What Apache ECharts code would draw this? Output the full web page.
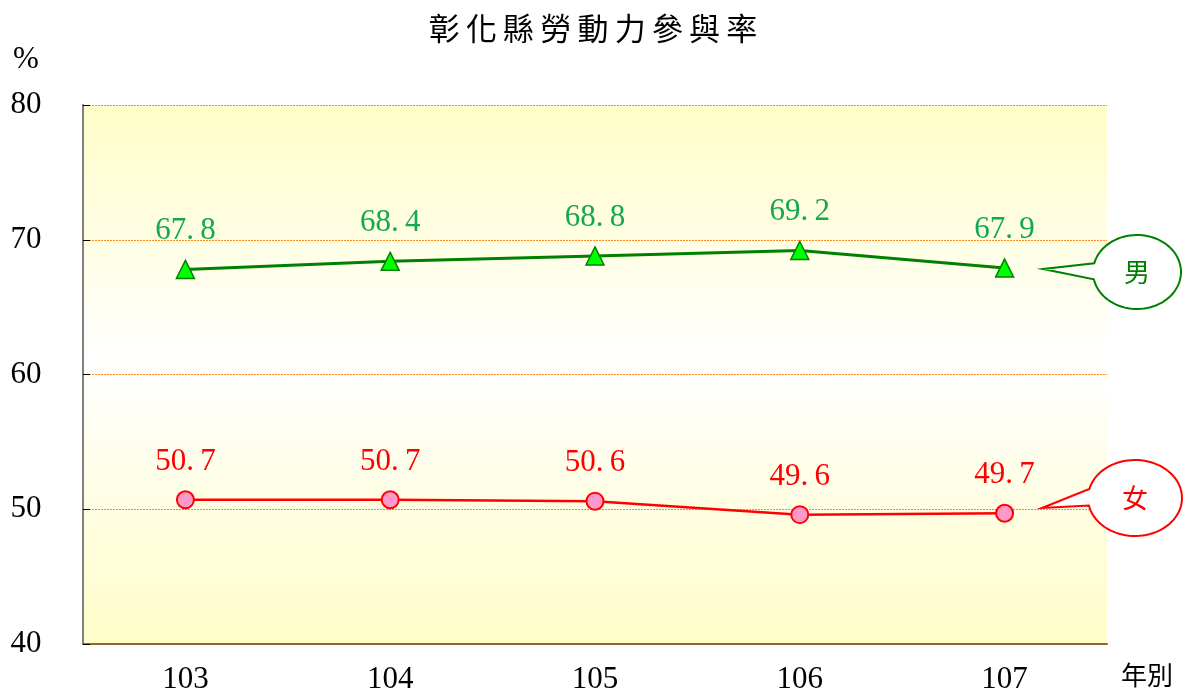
<!DOCTYPE html>
<html>
<head>
<meta charset="utf-8">
<script src="https://cdn.jsdelivr.net/npm/echarts@6/dist/echarts.min.js"></script>
<style>
  html, body { margin: 0; padding: 0; background: #fff; }
  #chart { width: 1186px; height: 695px; }
</style>
</head>
<body>
<div id="chart"></div>
<script>
const years = ['103', '104', '105', '106', '107']
const maleRates = [67.8, 68.4, 68.8, 69.2, 67.9]
const femaleRates = [50.7, 50.7, 50.6, 49.6, 49.7]
const yTicks = [40, 50, 60, 70, 80]

const serif = '"Liberation Serif", "DejaVu Serif", serif'
const cjk = '"Noto Sans CJK TC", "Noto Sans CJK SC", sans-serif'

const chart = echarts.init(document.getElementById('chart'))

// 對話框形狀：尖端 + 橢圓外框
const bubble = (tipX, tipY, cx, cy, rx, ry, color, text) => {
  const pts = [[tipX, tipY]]
  const a0 = Math.PI + 0.24
  const a1 = Math.PI * 3 - 0.2
  for (let i = 0; i <= 80; i++) {
    const a = a0 + ((a1 - a0) * i) / 80
    pts.push([cx + rx * Math.cos(a), cy + ry * Math.sin(a)])
  }
  return [
    {
      type: 'polygon',
      shape: { points: pts },
      style: { fill: '#fff', stroke: color, lineWidth: 2 },
      z: 10
    },
    {
      type: 'text',
      x: cx,
      y: cy,
      style: {
        text: text,
        fill: color,
        font: `26px ${cjk}`,
        align: 'center',
        verticalAlign: 'middle'
      },
      z: 11
    }
  ]
}

const dataLabel = (color) => ({
  show: true,
  position: 'top',
  distance: 13,
  fontFamily: serif,
  fontSize: 31,
  color: color,
  formatter: (p) => p.value.toFixed(1).replace('.', '.\u2009')
})

const option = {
  animation: false,
  title: {
    text: '彰\u2009化\u2009縣\u2009勞\u2009動\u2009力\u2009參\u2009與\u2009率',
    left: 'center',
    top: 8,
    textStyle: { fontFamily: cjk, fontSize: 31, fontWeight: 'normal', color: '#000' }
  },
  grid: {
    left: 83,
    right: 79,
    top: 105,
    bottom: 50,
    show: true,
    borderWidth: 0,
    backgroundColor: new echarts.graphic.LinearGradient(0, 0, 0, 1, [
      { offset: 0, color: '#FFFDC8' },
      { offset: 0.48, color: '#FFFFFF' },
      { offset: 1, color: '#FFFDC8' }
    ])
  },
  xAxis: {
    type: 'category',
    data: years,
    boundaryGap: true,
    name: '年別',
    nameLocation: 'end',
    nameGap: 14,
    nameTextStyle: { fontFamily: cjk, fontSize: 26, color: '#000', verticalAlign: 'top', padding: [18, 0, 0, 0] },
    axisLine: { lineStyle: { color: '#8a6a3a', width: 2 } },
    axisTick: { inside: true, length: 8, lineStyle: { color: '#333' } },
    axisLabel: { fontFamily: serif, fontSize: 31, color: '#000', margin: 20 },
    splitLine: { show: false }
  },
  yAxis: {
    type: 'value',
    min: yTicks[0],
    max: yTicks[yTicks.length - 1],
    interval: 10,
    name: '%',
    nameLocation: 'end',
    nameGap: 30,
    nameTextStyle: { fontFamily: serif, fontSize: 31, color: '#000', align: 'center', padding: [0, 114, 0, 0] },
    axisLine: { show: true, lineStyle: { color: '#808080', width: 2 } },
    axisTick: { show: true, inside: true, length: 7, lineStyle: { color: '#000' } },
    axisLabel: { fontFamily: serif, fontSize: 31, color: '#000', margin: 57, align: 'center' },
    splitLine: { lineStyle: { color: '#FF8C1A', type: [2, 1], width: 1 } }
  },
  series: [
    {
      name: '男',
      type: 'line',
      data: maleRates,
      symbol: 'triangle',
      symbolSize: 18,
      lineStyle: { color: '#008000', width: 3 },
      itemStyle: { color: '#00FF00', borderColor: '#008000', borderWidth: 1.5 },
      label: dataLabel('#14A850'),
      z: 3
    },
    {
      name: '女',
      type: 'line',
      data: femaleRates,
      symbol: 'circle',
      symbolSize: 17,
      lineStyle: { color: '#FF0000', width: 2.5 },
      itemStyle: { color: '#FF99CC', borderColor: '#FF0000', borderWidth: 2 },
      label: dataLabel('#FF0000'),
      z: 3
    }
  ],
  graphic: [
    ...bubble(1043, 269, 1137, 272, 44, 37, '#008000', '男'),
    ...bubble(1042, 508, 1135, 498, 47, 38, '#FF0000', '女')
  ]
}

chart.setOption(option)
</script>
</body>
</html>
